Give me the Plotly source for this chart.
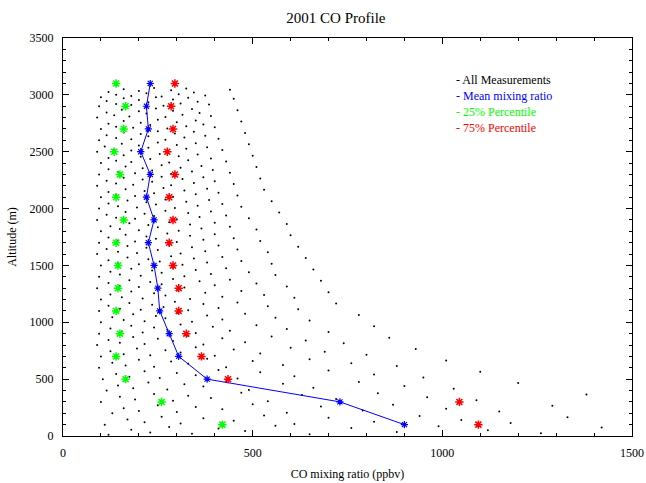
import plotly.graph_objects as go

alt = [100, 300, 500, 700, 900, 1100, 1300, 1500, 1700, 1900, 2100, 2300, 2500, 2700, 2900, 3100]
mean_co = [900, 730, 380, 305, 280, 255, 250, 240, 225, 240, 220, 230, 205, 225, 220, 230]
p25_co = [420, 260, 165, 140, 150, 140, 145, 145, 140, 160, 140, 150, 135, 160, 165, 140]
p75_co = [1095, 1045, 435, 365, 325, 305, 305, 290, 280, 290, 280, 295, 275, 290, 285, 295]

# hand-estimated sample of individual measurements: (altitude, list of CO values)
meas_rows = {
    30:  [120, 180, 230, 280, 340, 410, 480, 560, 650, 760, 880, 990, 1120, 1260, 1420],
    120: [110, 170, 215, 260, 310, 370, 450, 530, 610, 700, 820, 940, 1050, 1180, 1330],
    220: [130, 160, 200, 250, 300, 350, 420, 500, 590, 680, 790, 870, 1010, 1150, 1290],
    320: [100, 150, 190, 240, 290, 330, 390, 470, 540, 630, 720, 830, 960, 1090, 1380],
    420: [115, 145, 185, 225, 275, 320, 370, 430, 490, 580, 660, 780, 900, 1030, 1200],
    520: [105, 140, 175, 215, 255, 300, 350, 410, 460, 520, 610, 700, 820, 950, 1100],
    620: [95, 130, 165, 200, 240, 285, 330, 380, 430, 500, 580, 650, 760, 880, 1010],
    720: [100, 125, 160, 195, 230, 270, 310, 350, 400, 450, 520, 600, 690, 800, 930],
    820: [90, 120, 150, 185, 215, 250, 290, 330, 370, 420, 480, 550, 640, 740, 860],
    920: [95, 125, 155, 180, 210, 240, 275, 310, 350, 395, 440, 510, 590, 700, 820],
    1020: [100, 130, 160, 185, 215, 245, 270, 300, 340, 380, 420, 480, 560, 650, 780],
    1120: [95, 120, 150, 175, 205, 235, 265, 295, 330, 370, 410, 460, 540, 620, 720],
    1220: [100, 125, 155, 180, 210, 240, 270, 300, 335, 375, 420, 470, 530, 610, 700],
    1320: [90, 120, 150, 175, 200, 230, 260, 290, 320, 360, 400, 440, 510, 590, 680],
    1420: [95, 125, 150, 180, 205, 235, 260, 290, 320, 350, 390, 430, 490, 560, 660],
    1520: [100, 120, 145, 170, 200, 225, 255, 285, 315, 345, 380, 420, 470, 550, 640],
    1620: [90, 115, 145, 170, 195, 220, 250, 280, 310, 340, 375, 410, 460, 540, 620],
    1720: [95, 120, 145, 165, 190, 220, 245, 275, 300, 335, 370, 400, 450, 520, 600],
    1820: [100, 125, 150, 175, 200, 225, 250, 280, 305, 335, 365, 400, 440, 510, 590],
    1920: [90, 115, 140, 165, 190, 215, 240, 270, 300, 330, 360, 390, 430, 490, 570],
    2020: [95, 120, 145, 170, 195, 220, 245, 270, 295, 325, 355, 385, 420, 470, 550],
    2120: [100, 120, 140, 165, 190, 215, 240, 265, 290, 320, 350, 380, 410, 460, 530],
    2220: [90, 115, 140, 160, 185, 210, 235, 260, 285, 315, 345, 370, 400, 450, 520],
    2320: [95, 120, 145, 165, 190, 210, 235, 260, 285, 310, 340, 365, 395, 440, 510],
    2420: [100, 120, 140, 160, 180, 205, 230, 255, 280, 305, 330, 355, 390, 430, 500],
    2520: [90, 110, 135, 155, 180, 200, 225, 250, 275, 300, 325, 350, 380, 420, 490],
    2620: [95, 115, 140, 160, 180, 205, 225, 250, 270, 295, 320, 345, 375, 410, 480],
    2720: [100, 120, 140, 160, 185, 205, 230, 250, 275, 300, 325, 350, 370, 400, 470],
    2820: [90, 115, 135, 155, 175, 200, 220, 245, 270, 290, 315, 340, 360, 390, 460],
    2920: [95, 115, 140, 160, 180, 200, 225, 245, 265, 290, 310, 330, 355, 385, 450],
    3000: [100, 120, 140, 160, 180, 200, 220, 240, 260, 285, 305, 325, 345, 375, 440],
}
row_offsets = [0, 45, 20, 70, 10, 55, 35, 80, 5, 60, 25, 75, 40, 15, 65]

mx, my = [], []
for a, xs in meas_rows.items():
    for i, x in enumerate(xs):
        mx.append(x)
        my.append(a + row_offsets[i] - 20)

serif = "Liberation Serif, Times New Roman, serif"
fig = go.Figure()
fig.add_trace(go.Scatter(x=mx, y=my, mode="markers", marker=dict(color="black", size=2), showlegend=False))
fig.add_trace(go.Scatter(x=mean_co, y=alt, mode="lines+markers", line=dict(color="blue", width=1),
                         marker=dict(color="blue", size=6, symbol="asterisk-open", line=dict(width=1.2, color="blue")), showlegend=False))
fig.add_trace(go.Scatter(x=p25_co, y=alt, mode="markers",
                         marker=dict(color="#00ff00", size=7, symbol="asterisk-open", line=dict(width=1.5, color="#00ff00")), showlegend=False))
fig.add_trace(go.Scatter(x=p75_co, y=alt, mode="markers",
                         marker=dict(color="red", size=7, symbol="asterisk-open", line=dict(width=1.5, color="red")), showlegend=False))

legend_items = [("- All Measurements", "black"), ("- Mean mixing ratio", "blue"),
                ("- 25% Percentile", "#00ff00"), ("- 75% Percentile", "red")]
for i, (t, c) in enumerate(legend_items):
    fig.add_annotation(x=1030, y=3130 - i * 140, xref="x", yref="y", text=t, showarrow=False,
                       xanchor="left", font=dict(color=c, size=12, family=serif))

ax = dict(showgrid=False, zeroline=False, showline=True, linecolor="black", mirror="ticks",
          ticks="inside", ticklen=6, tickcolor="black", automargin=False, ticklabelstandoff=6,
          tickfont=dict(family=serif, size=12, color="black"))
fig.update_layout(
    width=646, height=483, plot_bgcolor="white", paper_bgcolor="white",
    font=dict(family=serif, color="black"),
    margin=dict(l=63, r=14, t=38, b=47),
    title=dict(text="2001 CO Profile", x=0.52, y=0.975, font=dict(family=serif, size=15, color="black")),
    xaxis=dict(**ax, range=[0, 1500], dtick=500, minor=dict(ticks="inside", ticklen=3, dtick=100),
               title=dict(text="CO mixing ratio (ppbv)", font=dict(family=serif, size=12, color="black"), standoff=10)),
    yaxis=dict(**ax, range=[0, 3500], dtick=500, minor=dict(ticks="inside", ticklen=3, dtick=100),
               title=dict(text="Altitude (m)", font=dict(family=serif, size=12, color="black"), standoff=10)),
)
fig.write_html("out.html", config={"displayModeBar": False})
with open("out.html") as f:
    html = f.read()
html = html.replace("<head>", "<head><style>html,body{margin:0;padding:0;overflow:hidden}</style>", 1)
with open("out.html", "w") as f:
    f.write(html)
